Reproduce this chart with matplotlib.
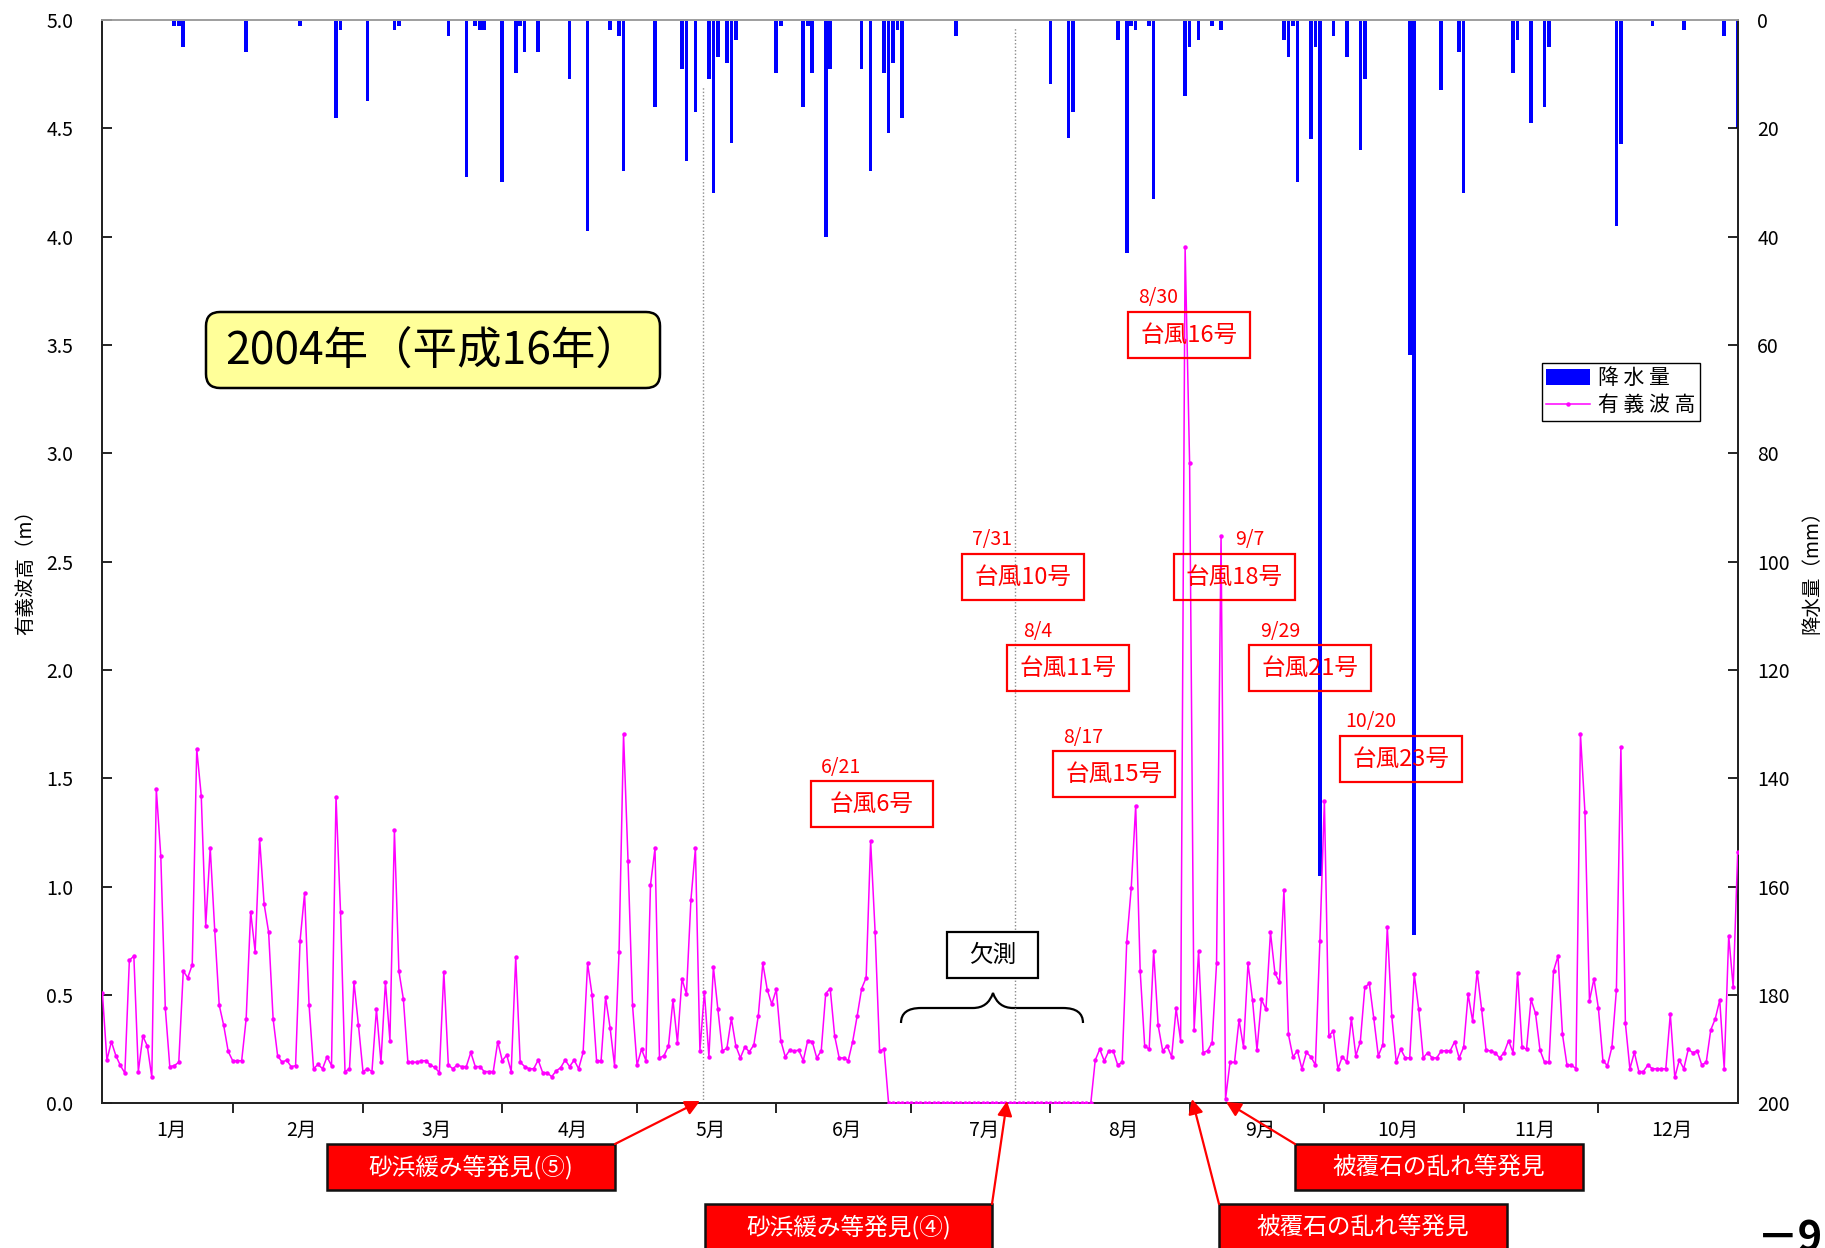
import numpy as np
import matplotlib
matplotlib.use("Agg")
import matplotlib.pyplot as plt
from matplotlib.patches import Rectangle, FancyBboxPatch, FancyArrowPatch, PathPatch, Patch
from matplotlib.path import Path
from matplotlib.lines import Line2D
from matplotlib.transforms import IdentityTransform

plt.rcParams['font.family'] = ['Noto Sans CJK JP', 'DejaVu Sans']

W, H = 1825, 1248

# significant wave height (m), one value per day, index 0 = left edge
wave = [
    0.51, 0.20, 0.285, 0.22, 0.175, 0.14, 0.66, 0.68, 0.147, 0.31, 0.265, 0.12,
    1.45, 1.14, 0.44, 0.17, 0.174, 0.19, 0.61, 0.58, 0.64,
    1.635, 1.42, 0.82, 1.18, 0.80, 0.454, 0.36, 0.24, 0.197, 0.197, 0.197,
    0.39, 0.885, 0.70, 1.22, 0.92, 0.79, 0.39, 0.22, 0.19, 0.20, 0.17, 0.174, 0.75, 0.97, 0.454,
    0.16, 0.18, 0.16, 0.215, 0.174, 1.415, 0.885, 0.147, 0.16, 0.56, 0.36, 0.147, 0.16, 0.147,
    0.435, 0.19, 0.56, 0.29, 1.26, 0.61, 0.48, 0.19, 0.19, 0.19, 0.197, 0.197, 0.177, 0.166, 0.142,
    0.608, 0.177, 0.16, 0.177, 0.17, 0.17, 0.235, 0.17, 0.17, 0.147, 0.147, 0.147, 0.285, 0.197, 0.223, 0.147,
    0.674, 0.19, 0.17, 0.16, 0.16, 0.20, 0.142, 0.142, 0.123, 0.15, 0.165,
    0.20, 0.17, 0.20, 0.16, 0.235, 0.646, 0.50, 0.197, 0.197, 0.49, 0.35, 0.174, 0.70, 1.705, 1.12,
    0.454, 0.177, 0.25, 0.197, 1.008, 1.177, 0.21, 0.22, 0.265, 0.477, 0.28, 0.574, 0.505, 0.94, 1.177,
    0.243, 0.515, 0.215, 0.63, 0.434, 0.243, 0.254, 0.392, 0.265, 0.21, 0.26, 0.238, 0.27, 0.405, 0.646,
    0.523, 0.458, 0.526, 0.29, 0.215, 0.246, 0.242, 0.246, 0.197, 0.29, 0.285, 0.21, 0.242, 0.507, 0.53,
    0.31, 0.21, 0.21, 0.197, 0.285, 0.403, 0.53, 0.58, 1.212, 0.79, 0.242, 0.25,
] + [0.0] * 46 + [  # 欠測 period, drawn as 0
    0.20, 0.25, 0.196, 0.242, 0.242, 0.177, 0.19, 0.743, 0.992, 1.374, 0.61, 0.265, 0.25, 0.703, 0.36,
    0.243, 0.265, 0.215, 0.438, 0.29, 3.95, 2.957, 0.338, 0.703, 0.234, 0.243, 0.28, 0.646, 2.62, 0.02,
    0.19, 0.19, 0.385, 0.26, 0.646, 0.477, 0.246, 0.48, 0.434, 0.79, 0.60, 0.56, 0.985, 0.318, 0.215,
    0.242, 0.16, 0.235, 0.215, 0.177, 0.75, 1.397, 0.312, 0.334, 0.16, 0.215, 0.19, 0.392, 0.22, 0.285,
    0.535, 0.554, 0.392, 0.22, 0.27, 0.815, 0.403, 0.19, 0.25, 0.21, 0.21, 0.597, 0.434, 0.21, 0.234,
    0.21, 0.21, 0.242, 0.243, 0.243, 0.285, 0.21, 0.26, 0.503, 0.38, 0.608, 0.434, 0.246, 0.242, 0.234,
    0.21, 0.234, 0.29, 0.234, 0.603, 0.26, 0.25, 0.48, 0.415, 0.246, 0.19, 0.19, 0.61, 0.68, 0.318,
    0.177, 0.177, 0.16, 1.705, 1.343, 0.474, 0.574, 0.438, 0.197, 0.174, 0.26, 0.523, 1.646, 0.37, 0.16,
    0.235, 0.147, 0.147, 0.177, 0.16, 0.16, 0.16, 0.16, 0.412, 0.12, 0.20, 0.16, 0.25, 0.234, 0.242,
    0.177, 0.19, 0.339, 0.39, 0.477, 0.16, 0.774, 0.535, 1.161,
]

# daily rainfall (mm), only days with rain
rain_day = [16, 17, 18, 32, 44, 52, 53, 59, 65, 66, 77, 81, 83, 84, 85, 89, 92, 93, 94, 97,
            104, 108, 113, 115, 116, 123, 129, 130, 132, 135, 136, 137, 139, 140, 141, 150, 151,
            156, 157, 158, 161, 162, 169, 171, 174, 175, 176, 177, 178, 190, 211, 215, 216, 226,
            228, 229, 230, 233, 234, 241, 242, 244, 247, 249, 263, 264, 265, 266, 269, 270, 271,
            274, 277, 280, 281, 291, 292, 298, 302, 303, 314, 315, 318, 321, 322, 337, 338, 345,
            352, 361, 364]
rain_mm = [1.1, 1.1, 5.0, 5.9, 1.1, 18.1, 1.9, 14.9, 1.9, 1.1, 2.9, 29.0, 1.1, 1.9, 1.9, 29.9,
           9.8, 1.1, 5.9, 5.9, 10.9, 38.9, 1.9, 2.9, 27.9, 16.1, 9.1, 26.0, 17.0, 10.9, 31.9, 6.9,
           7.9, 22.8, 3.8, 9.8, 1.1, 16.1, 1.1, 9.8, 40.0, 9.1, 9.1, 27.9, 9.8, 20.9, 7.9, 1.9,
           18.1, 2.9, 11.9, 21.9, 17.0, 3.8, 43.0, 1.1, 1.9, 1.1, 33.0, 14.0, 5.0, 3.8, 1.1, 1.9,
           3.8, 6.9, 1.1, 29.9, 22.0, 5.0, 158.0, 3.0, 6.9, 24.1, 10.9, 61.9, 169.0, 13.0, 5.9,
           31.9, 9.8, 3.8, 19.0, 16.1, 5.0, 38.0, 22.9, 1.1, 1.9, 3.0, 20.0]

days_in_month = [31, 29, 31, 30, 31, 30, 31, 31, 30, 31, 30, 31]
month_labels = [f'{m}月' for m in range(1, 13)]

# survey days (dotted lines) and how high the dotted line goes
survey_day = [133.6, 203.1]
survey_top = [4.69, 4.96]

typhoon_names = ['台風6号', '台風10号', '台風11号', '台風15号', '台風16号', '台風18号', '台風21号', '台風23号']
typhoon_dates = ['6/21', '7/31', '8/4', '8/17', '8/30', '9/7', '9/29', '10/20']

notes = ['砂浜緩み等発見(⑤)', '砂浜緩み等発見(④)', '被覆石の乱れ等発見', '被覆石の乱れ等発見']

fig = plt.figure(figsize=(W / 100, H / 100), dpi=100)
ax = fig.add_axes([102.4 / W, 1 - 1103.4 / H, (1737.7 - 102.4) / W, (1103.4 - 19.8) / H])
ax2 = ax.twinx()

# rainfall bars hanging from the top (right axis)
ax2.bar(rain_day, rain_mm, width=0.8, color='#0000FF', linewidth=0)
ax2.set_ylim(200, 0)
ax2.set_yticks(range(0, 201, 20))
ax2.tick_params(axis='y', direction='in', length=7, width=1.2, pad=14, labelsize=14)

# wave height line (left axis)
x = np.arange(len(wave))
ax.plot(x, wave, color='#FF00FF', lw=1.1, marker='o', ms=2.2, zorder=3)
ax.vlines(survey_day, 0, survey_top, colors='#8c8c8c', linestyles=(0, (1, 1.5)), lw=1, zorder=1)
ax.set_ylim(0, 5)
ax.set_yticks(np.arange(0, 5.01, 0.5))
ax.set_yticklabels([f'{v:.1f}' for v in np.arange(0, 5.01, 0.5)])
ax.tick_params(axis='y', direction='in', length=7, width=1.2, pad=21, labelsize=14)
ax.set_xlim(0, len(wave) - 1)
ax.set_zorder(ax2.get_zorder() + 1)
ax.patch.set_visible(False)

# month boundaries as ticks, names in between
ends = np.cumsum(days_in_month)[:-1] - 2
edges = np.concatenate([[0], ends, [len(wave) - 1]])
ax.set_xticks(ends)
ax.set_xticklabels([])
ax.tick_params(axis='x', which='major', direction='out', length=7, width=1.2)
ax.set_xticks((edges[:-1] + edges[1:]) / 2 + 0.8, minor=True)
ax.set_xticklabels(month_labels, minor=True)
ax.tick_params(axis='x', which='minor', length=0, pad=12, labelsize=14)

for a in (ax, ax2):
    for s in a.spines.values():
        s.set_linewidth(1.3)
        s.set_color('#222222')
    a.spines['top'].set_color('#a0a0a0')

fig.text(25.7 / W, 1 - 567 / H, '有義波高（m）', rotation=90, ha='center', va='center', fontsize=14)
fig.text(1811.7 / W, 1 - 567 / H, '降水量（mm）', rotation=90, ha='center', va='center', fontsize=14)

# legend
handles = [Patch(facecolor='#0000FF'),
           Line2D([], [], color='#FF00FF', lw=1.1, marker='o', ms=2.2)]
leg = fig.legend(handles, ['降 水 量', '有 義 波 高'], loc='upper left',
                 bbox_to_anchor=(1542 / W, 1 - 363 / H), frameon=True, fancybox=False,
                 edgecolor='black', framealpha=1, fontsize=15, handlelength=2.1,
                 handleheight=0.8, borderpad=0.2, labelspacing=0.25, handletextpad=0.4,
                 borderaxespad=0)
leg.get_frame().set_linewidth(1.0)

# everything below is drawn in image pixels (y measured from the top)
T = IdentityTransform()


def P(px, py):
    return (px, H - py)


def rect(x0, y0, x1, y1, **kw):
    r = Rectangle(P(x0, y1), x1 - x0, y1 - y0, transform=T, **kw)
    fig.add_artist(r)


def arrow(p0, p1):
    a = FancyArrowPatch(P(*p0), P(*p1), transform=T, arrowstyle='-|>', mutation_scale=22,
                        color='#FF0000', lw=1.6, shrinkA=0, shrinkB=0, zorder=6)
    fig.add_artist(a)


# year box
fig.add_artist(FancyBboxPatch(P(206, 388), 454, 76, boxstyle='round,pad=0,rounding_size=14',
                              fc='#FFFF99', ec='black', lw=1.8, transform=T))
fig.text(*P(433, 351), '2004年（平成16年）', transform=T, ha='center', va='center', fontsize=32)

# typhoon labels
typhoon_boxes = [(811, 781, 933, 827), (962, 554, 1084, 600), (1007, 645, 1129, 691),
                 (1053, 751, 1175, 797), (1128, 312, 1250, 358), (1174, 554, 1295, 600),
                 (1249, 645, 1371, 691), (1340, 736, 1462, 782)]
date_pos = [(821, 767), (972, 540), (1023, 631), (1063, 737), (1138, 298), (1235, 540),
            (1260, 631), (1345, 722)]
for name, date, b, d in zip(typhoon_names, typhoon_dates, typhoon_boxes, date_pos):
    rect(*b, fill=False, ec='#FF0000', lw=1.6, zorder=5)
    fig.text(*P((b[0] + b[2]) / 2, (b[1] + b[3]) / 2), name, transform=T, ha='center',
             va='center', color='#FF0000', fontsize=17, zorder=5)
    fig.text(*P(*d), date, transform=T, ha='left', va='center', color='#FF0000', fontsize=14)

# 欠測 box and brace
rect(947, 932, 1038, 978, fc='white', ec='black', lw=1.6, zorder=5)
fig.text(*P(992.5, 955), '欠測', transform=T, ha='center', va='center', fontsize=17, zorder=6)
bx = [(901, 1023), (901, 1008), (921, 1008), (973, 1008), (988, 1008), (993, 993),
      (998, 1008), (1013, 1008), (1063, 1008), (1083, 1008), (1083, 1023)]
codes = [Path.MOVETO, Path.CURVE3, Path.CURVE3, Path.LINETO, Path.CURVE3, Path.CURVE3,
         Path.CURVE3, Path.CURVE3, Path.LINETO, Path.CURVE3, Path.CURVE3]
fig.add_artist(PathPatch(Path([P(*p) for p in bx], codes), transform=T, fill=False,
                         ec='black', lw=1.6))

# red finding boxes with arrows
note_boxes = [(327, 1144, 615, 1190), (705, 1204, 992, 1250), (1295, 1144, 1583, 1190),
              (1219, 1204, 1507, 1250)]
arrow_from = [(615, 1144), (992, 1204), (1295, 1144), (1219, 1204)]
arrow_to = [(700, 1101), (1007, 1101), (1226, 1102), (1192, 1099)]
for t, b, a0, a1 in zip(notes, note_boxes, arrow_from, arrow_to):
    rect(*b, fc='#FF0000', ec='#111111', lw=1.8, zorder=5)
    fig.text(*P((b[0] + b[2]) / 2, (b[1] + b[3]) / 2), t, transform=T, ha='center',
             va='center', color='white', fontsize=17, zorder=6)
    arrow(a0, a1)

# page number, cut by the page edge as in the original
fig.text(*P(1757, 1252), '－9', transform=T, ha='left', va='baseline', fontsize=30,
         fontweight='bold')

fig.savefig('out.png', dpi=100)
